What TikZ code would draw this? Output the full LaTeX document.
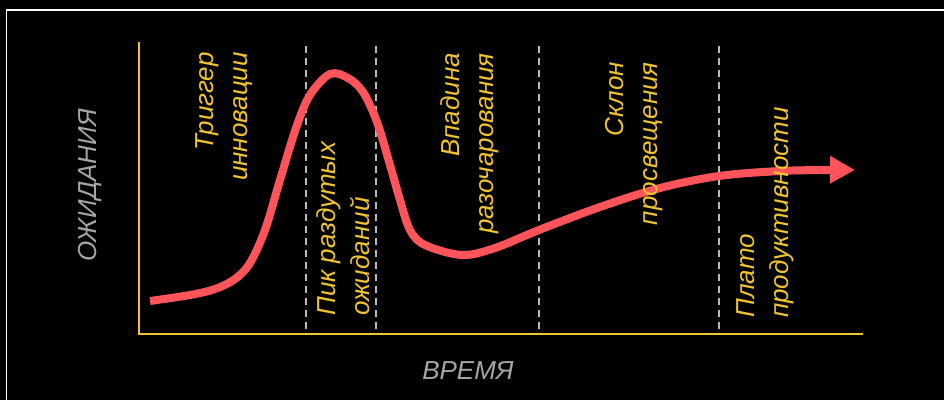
\documentclass[tikz,border=0pt]{standalone}
\usepackage{fontspec}
\setmainfont{Liberation Sans}
\usetikzlibrary{arrows.meta}
\definecolor{hcred}{RGB}{255,85,90}
\definecolor{hcyel}{RGB}{240,196,48}
\definecolor{hcgray}{RGB}{165,165,165}
\definecolor{hcdash}{RGB}{185,185,185}
\begin{document}
\begin{tikzpicture}[x=1pt,y=-1pt,
  phase/.style={text=hcyel, rotate=90, inner sep=0pt, font=\fontsize{26}{34}\selectfont\itshape},
  axislabel/.style={text=hcgray, inner sep=0pt, font=\fontsize{26}{32}\selectfont\itshape},
  divider/.style={draw=hcdash, line width=1.4pt, dash pattern=on 7pt off 5pt},
  axisline/.style={draw=hcyel, line width=2pt},
  hype/.style={draw=hcred, line width=8pt, -{Triangle[length=25pt,width=26pt]}}]
\useasboundingbox (0,0) rectangle (944,400);
\fill[black] (0,0) rectangle (944,400);
\draw[white, line width=1.5pt] (6.5,400) -- (6.5,9.8) -- (944,9.8);
% dividers
\foreach \x/\n in {306/d1, 376/d2, 539/d3, 719/d4} {
  \coordinate (\n t) at (\x,46);
  \coordinate (\n b) at (\x,334);
  \draw[divider] (\n t) -- (\n b);
}
% axes
\coordinate (ytop) at (138.5,42);
\coordinate (orig) at (138.5,334);
\coordinate (xend) at (863,334);
\draw[axisline] (ytop) -- (orig) -- (xend);
% hype curve
\draw[hype] plot[smooth, tension=0.55] coordinates {
  (150,301) (190,295) (215,289) (235,279) (250,263) (265,230) (280,180)
  (296,128) (310,95) (330,74) (348,78) (363,92) (377,122) (390,165)
  (400,200) (410,230) (425,245) (462,255) (495,248) (539,230) (600,207)
  (660,188) (719,176) (780,171) (830,170) (855,170)};
% phase labels
\node[phase, anchor=east, align=right] (trig) at (224,52) {Триггер\\инновации};
\node[phase, anchor=west, align=left] (peak) at (343.5,316) {Пик раздутых\\ожиданий};
\node[phase, anchor=east, align=right] (trough) at (470,53) {Впадина\\разочарования};
\node[phase, anchor=east, align=right] (slope) at (634.5,62) {Склон\\просвещения};
\node[phase, anchor=west, align=left] (plateau) at (765,318) {Плато\\продуктивности};
% axis labels
\node[axislabel, rotate=90] (ylab) at (90,185.5) {ОЖИДАНИЯ};
\node[axislabel] (xlab) at (468,371) {ВРЕМЯ};
\end{tikzpicture}
\end{document}
